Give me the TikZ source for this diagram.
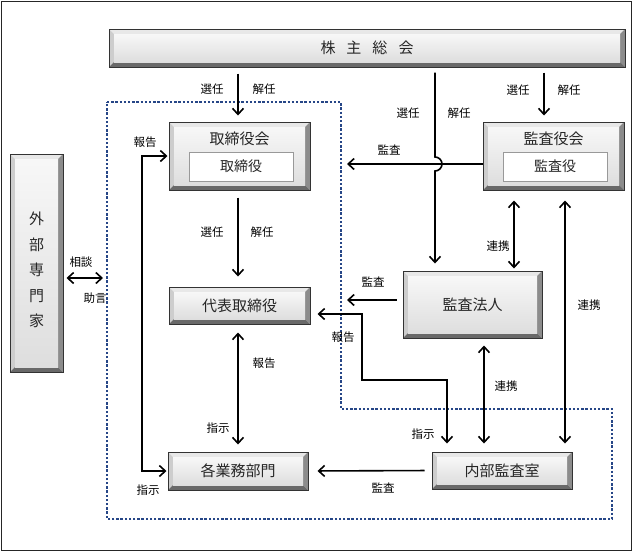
\documentclass[tikz,border=0pt]{standalone}
\usepackage{fontspec}
\newfontfamily\jp{Noto Sans CJK JP}
\usetikzlibrary{arrows.meta}
\definecolor{dotblue}{RGB}{38,70,135}
\definecolor{bvtop}{RGB}{232,232,232}
\definecolor{bvleft}{RGB}{205,205,205}
\definecolor{bvright}{RGB}{140,140,140}
\definecolor{bvbot}{RGB}{105,105,105}
\begin{document}
\begin{tikzpicture}[x=1pt,y=-1pt,
  lbl/.style={font=\jp\fontsize{11.5}{13}\selectfont, inner sep=0pt, text=black},
  boxtxt/.style={font=\jp\fontsize{15}{18}\selectfont, inner sep=0pt, text=black!85},
  inbox/.style={draw=black!40, fill=white, line width=0.7pt, inner sep=0pt,
    font=\jp\fontsize{14}{16}\selectfont, text=black!85},
  tipb/.tip={Straight Barb[length=6pt,width=11pt]},
  arr/.style={line width=1.6pt, -tipb},
  darr/.style={line width=1.6pt, tipb-tipb},
  dotreg/.style={draw=dotblue, line width=2.6pt, dash pattern=on 2.4pt off 1.8pt},
  bev/.style={draw=black!80, line width=1pt, inner sep=0pt,
    font=\jp\fontsize{15}{18}\selectfont, text=black!85,
    path picture={
      \coordinate (SW) at (path picture bounding box.south west);
      \coordinate (NE) at (path picture bounding box.north east);
      \coordinate (NW) at (path picture bounding box.north west);
      \coordinate (SE) at (path picture bounding box.south east);
      \fill[bvtop] (NW) -- (NE) -- ([shift={(-5pt,-5pt)}]NE) -- ([shift={(5pt,-5pt)}]NW) -- cycle;
      \fill[bvleft] (NW) -- ([shift={(5pt,-5pt)}]NW) -- ([shift={(5pt,5pt)}]SW) -- (SW) -- cycle;
      \fill[bvright] (NE) -- ([shift={(-5pt,-5pt)}]NE) -- ([shift={(-5pt,5pt)}]SE) -- (SE) -- cycle;
      \fill[bvbot] (SW) -- ([shift={(5pt,5pt)}]SW) -- ([shift={(-5pt,5pt)}]SE) -- (SE) -- cycle;
      \shade[top color=white!97!black, bottom color=black!13]
        ([shift={(5pt,5pt)}]SW) rectangle ([shift={(-5pt,-5pt)}]NE);
    }}
]
\useasboundingbox (0,0) rectangle (633,552);
\draw[line width=1pt, black!85] (1.5,1.5) rectangle (631.5,550.5);

% dotted company region
\draw[dotreg] (107,102) -- (341,102) -- (341,409) -- (612,409) -- (612,519) -- (107,519) -- cycle;

% boxes
\node[bev, minimum width=516pt, minimum height=38pt] (kabu) at (367,48)
  {株\hspace{11pt}主\hspace{11pt}総\hspace{11pt}会};

\node[bev, minimum width=141pt, minimum height=68pt] (tori) at (239.5,156) {};
\node[boxtxt] (toriT) at (239.5,139) {取締役会};
\node[inbox, minimum width=104pt, minimum height=29pt] (toriI) at (241,166.5) {取締役};

\node[bev, minimum width=141pt, minimum height=68pt] (kyaku) at (553.5,156) {};
\node[boxtxt] (kyakuT) at (553.5,139) {監査役会};
\node[inbox, minimum width=104pt, minimum height=29pt] (kyakuI) at (555,166.5) {監査役};

\node[bev, minimum width=141pt, minimum height=37pt] (daihyo) at (239.5,305.5) {代表取締役};
\node[bev, minimum width=139pt, minimum height=67pt] (hojin) at (472.5,304.5) {監査法人};
\node[bev, minimum width=140pt, minimum height=38pt] (kaku) at (238,471) {各業務部門};
\node[bev, minimum width=140pt, minimum height=37pt] (naibu) at (502,470.5) {内部監査室};
\node[bev, minimum width=53pt, minimum height=218pt] (gaibu) at (36.5,263) {};
\node[boxtxt, align=center, font=\jp\fontsize{15}{25.5}\selectfont] (gaibuT) at (36.5,270)
  {外\\部\\専\\門\\家};

% helper coordinates
\coordinate (xA) at (238,0);
\coordinate (xB) at (435,0);
\coordinate (xC) at (544,0);
\coordinate (xD) at (514,0);
\coordinate (xE) at (565,0);
\coordinate (xF) at (484,0);
\coordinate (xG) at (447,0);
\coordinate (audA) at (347,164);
\coordinate (audB) at (347,300);
\coordinate (kaiA) at (103,278);

% shareholders -> board
\draw[arr, shorten <=6pt, shorten >=6pt] (kabu.south -| xA) -- (tori.north -| xA);
\node[lbl] (l1) at (212,89) {選任};
\node[lbl] (l2) at (264,89) {解任};

% shareholders -> audit firm (with hop)
\draw[arr, shorten >=7pt] ([yshift=-5pt]kabu.south -| xB) -- (435,157) arc (90:-90:7pt) -- (hojin.north -| xB);
\node[lbl] (l3) at (408,113) {選任};
\node[lbl] (l4) at (459,113) {解任};

% shareholders -> audit board
\draw[arr, shorten <=5pt, shorten >=6pt] (kabu.south -| xC) -- (kyaku.north -| xC);
\node[lbl] (l5) at (518,90) {選任};
\node[lbl] (l6) at (569,90) {解任};

% audit board -> board (監査)
\draw[arr] ([yshift=-8pt]kyaku.west) -- (audA);
\node[lbl] (l7) at (389,150) {監査};

% audit firm -> company (監査)
\draw[arr, shorten <=6pt] ([yshift=4.5pt]hojin.west) -- (audB);
\node[lbl] (l8) at (373,282) {監査};

% audit board <-> audit firm
\draw[darr, shorten <=10pt, shorten >=2pt] (kyaku.south -| xD) -- (hojin.north -| xD);
\node[lbl] (l9) at (498,246) {連携};

% audit board <-> internal audit
\draw[darr, shorten <=10pt, shorten >=8pt] (kyaku.south -| xE) -- (naibu.north -| xE);
\node[lbl] (l10) at (589,305) {連携};

% audit firm <-> internal audit
\draw[darr, shorten <=7pt, shorten >=8pt] (hojin.south -| xF) -- (naibu.north -| xF);
\node[lbl] (l11) at (506,386) {連携};

% representative director <-> internal audit
\draw[darr, shorten <=7pt, shorten >=8pt] ([yshift=-8.5pt]daihyo.east) -- (362,314) -- (362,380) -- (447,380) -- (naibu.north -| xG);
\node[lbl] (l12) at (343,337) {報告};
\node[lbl] (l13) at (423,434) {指示};

% board -> representative director
\draw[arr, shorten <=7pt, shorten >=10pt] (tori.south -| xA) -- (daihyo.north -| xA);
\node[lbl] (l14) at (212,232) {選任};
\node[lbl] (l15) at (262,232) {解任};

% representative director <-> departments
\draw[darr, shorten <=8pt, shorten >=7pt] (daihyo.south -| xA) -- (kaku.north -| xA);
\node[lbl] (l16) at (264,363) {報告};
\node[lbl] (l17) at (218,428) {指示};

% board <-> departments (left loop)
\draw[darr, shorten <=1pt, shorten >=1pt] (tori.west) -- (142,156) -- (142,471) -- (kaku.west);
\node[lbl] (l18) at (145,142) {報告};
\node[lbl] (l19) at (148,490) {指示};

% internal audit -> departments
\draw[arr, shorten <=7pt, shorten >=9pt] (naibu.west) -- (kaku.east);
\node[lbl] (l20) at (383,488) {監査};

% external experts <-> company
\draw[darr, shorten <=3pt] ([yshift=-15pt]gaibu.east) -- (kaiA);
\node[lbl] (l21) at (81,262) {相談};
\node[lbl] (l22) at (95,298) {助言};
\end{tikzpicture}
\end{document}
